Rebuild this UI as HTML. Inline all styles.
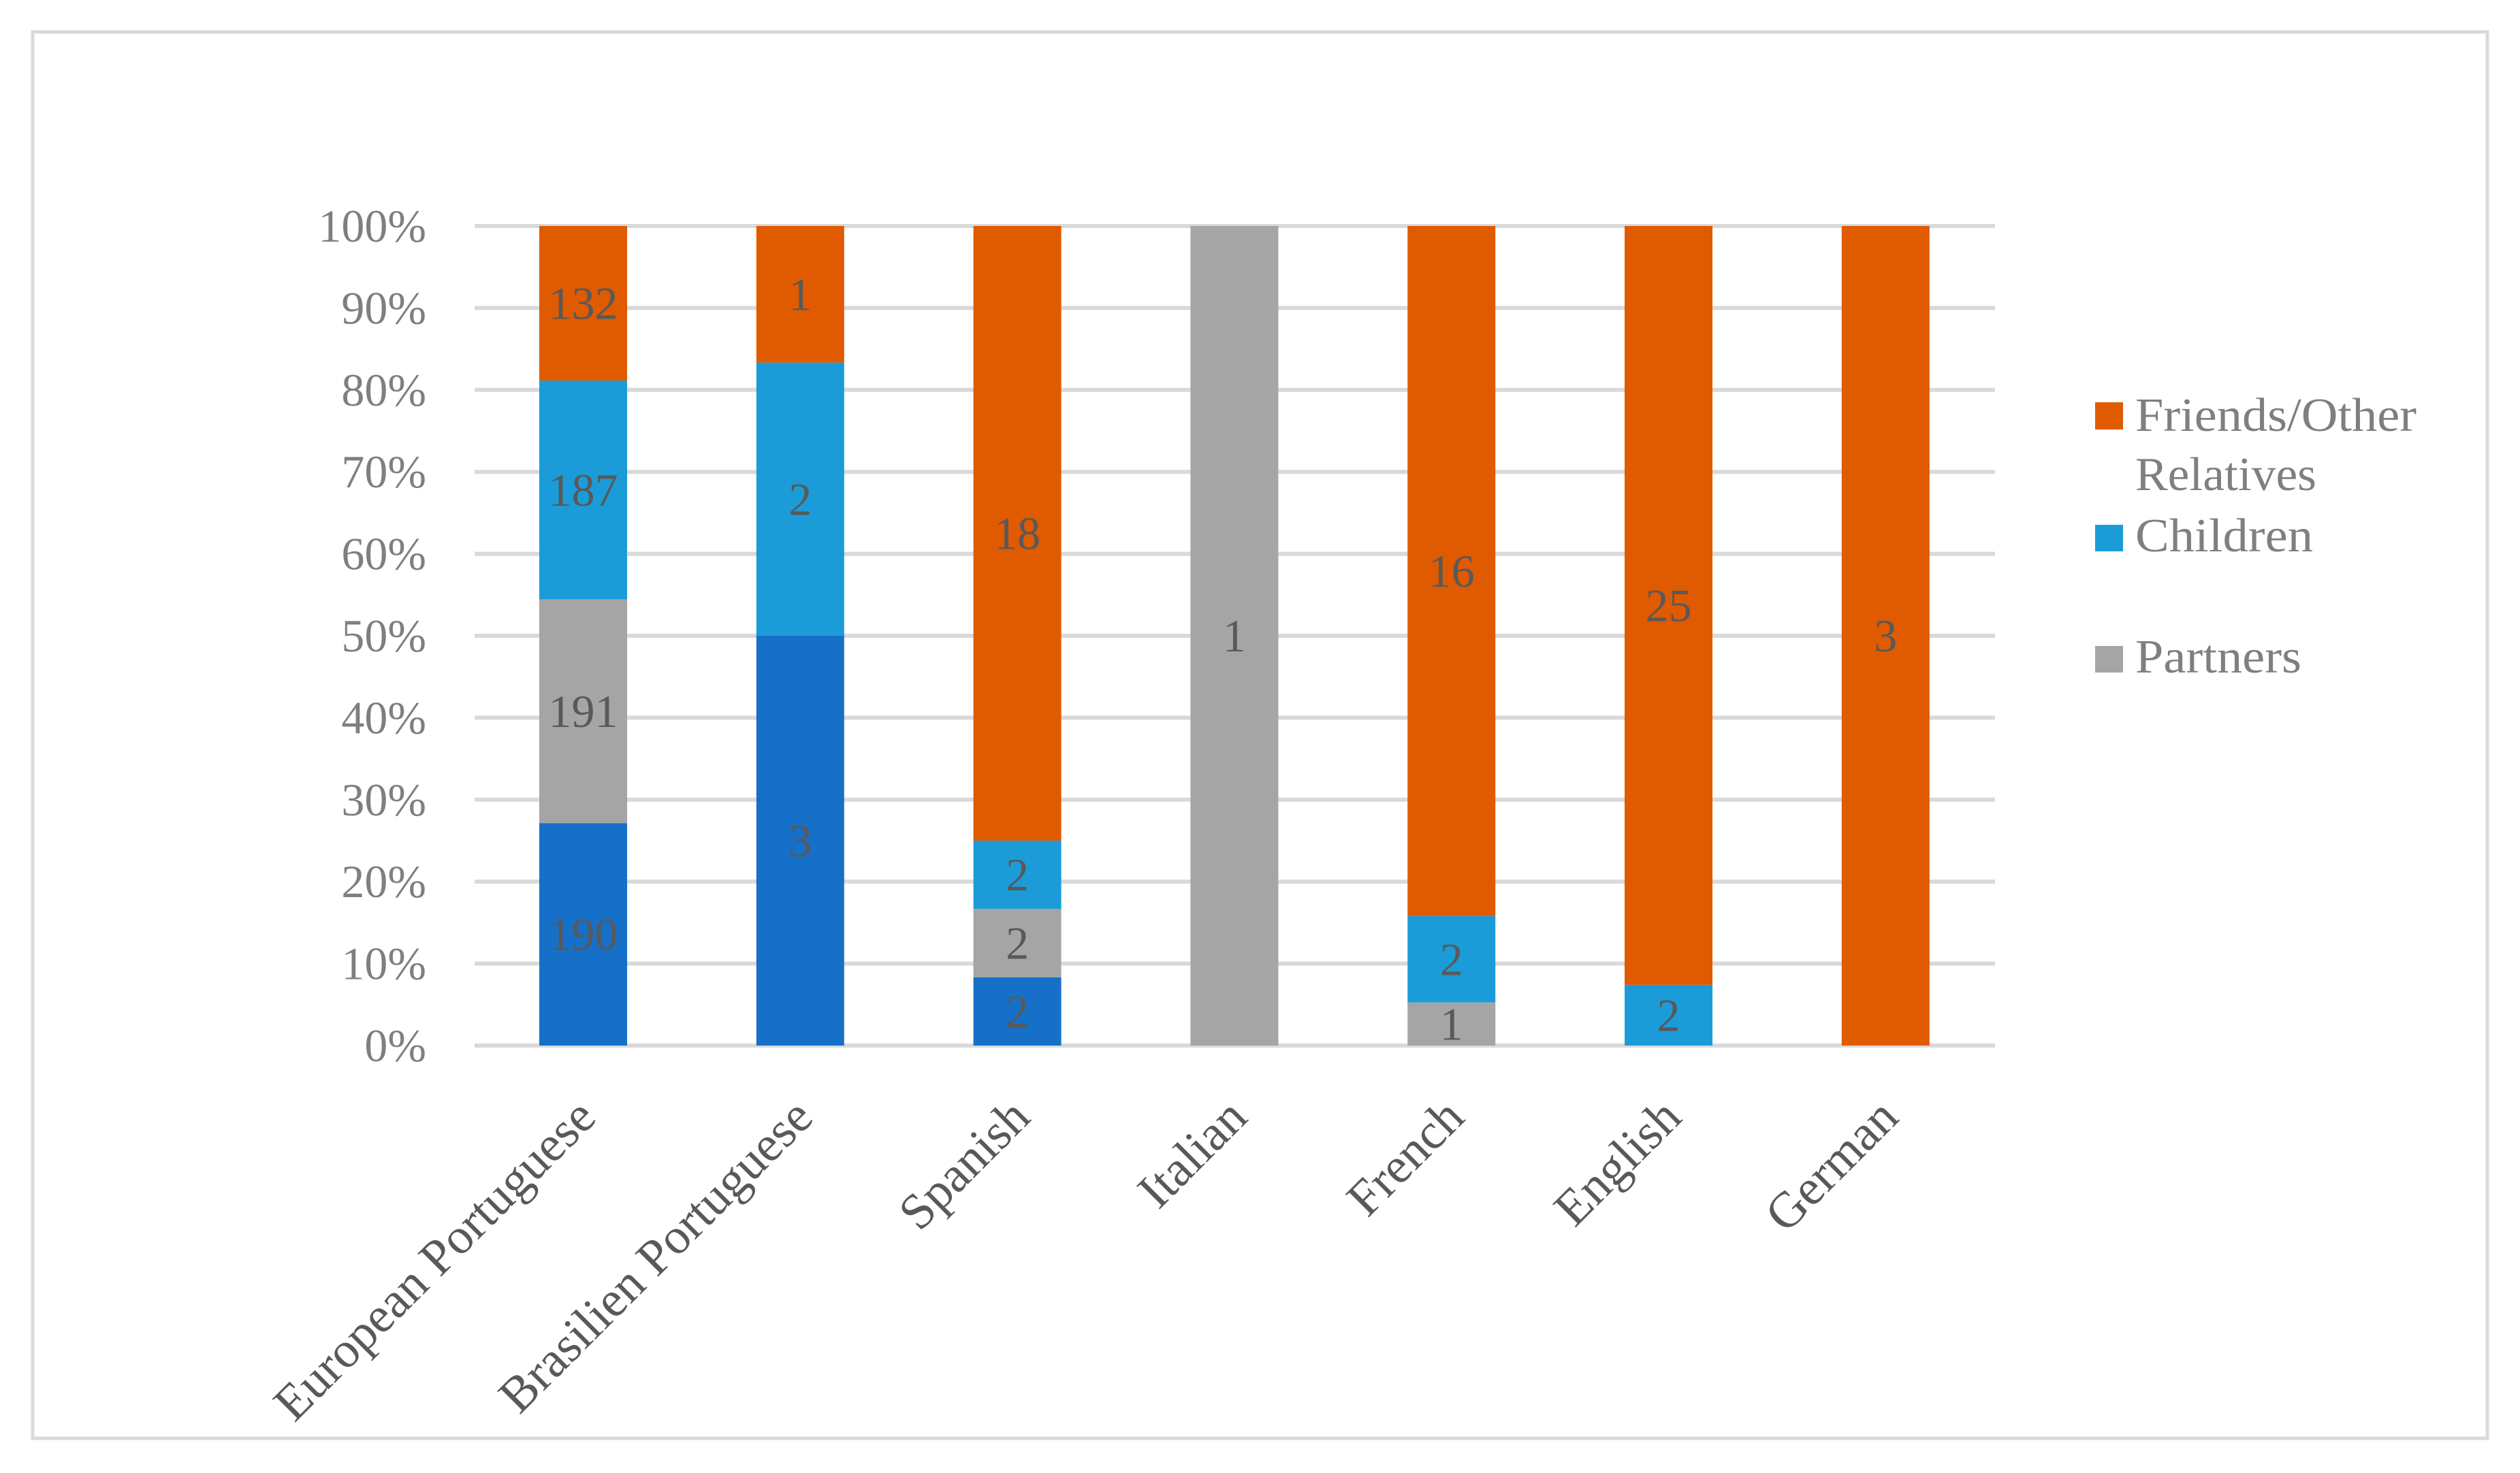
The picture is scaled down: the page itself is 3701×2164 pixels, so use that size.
<!DOCTYPE html>
<html><head><meta charset="utf-8"><style>
html,body{margin:0;padding:0;background:#fff;}
svg{display:block;font-family:"Liberation Serif",serif;}
</style></head><body>
<svg id="chart" width="3701" height="2164" viewBox="0 0 3701 2164" xmlns="http://www.w3.org/2000/svg">
<rect x="48" y="47" width="3605" height="2066" fill="#fff" stroke="#d9d9d9" stroke-width="5"/>
<g id="grid"></g><g id="ylabels"></g><g id="bars"></g><g id="vals"></g><g id="xlabels"></g>
<g>
<rect x="3077" y="591" width="41" height="40" fill="#e05a00"/>
<text x="3136" y="633" font-size="70" fill="#7f7f7f" textLength="413" lengthAdjust="spacingAndGlyphs">Friends/Other</text>
<text x="3136" y="720" font-size="70" fill="#7f7f7f" textLength="266" lengthAdjust="spacingAndGlyphs">Relatives</text>
<rect x="3077" y="771" width="41" height="39" fill="#1b9cd8"/>
<text x="3136" y="810" font-size="70" fill="#7f7f7f" textLength="261" lengthAdjust="spacingAndGlyphs">Children</text>
<rect x="3077" y="949" width="41" height="39" fill="#a5a5a5"/>
<text x="3136" y="988" font-size="70" fill="#7f7f7f" textLength="244" lengthAdjust="spacingAndGlyphs">Partners</text>
</g>
</svg>
<script>
const categories = ["European Portuguese","Brasilien Portuguese","Spanish","Italian","French","English","German"];
const other = [190,3,2,0,0,0,0];
const partners = [191,0,2,1,1,0,0];
const children = [187,2,2,0,2,2,0];
const friends = [132,1,18,0,16,25,3];
const yTicks = ["0%","10%","20%","30%","40%","50%","60%","70%","80%","90%","100%"];

const NS="http://www.w3.org/2000/svg";
const y0=1536, y1=332, gx0=697, gx1=2930, x0=856.5, step=318.8, bw=129;
const yS=p=>y0-(y0-y1)*p;
const xS=i=>x0+step*i;
function mk(tag,attrs,parent){const e=document.createElementNS(NS,tag);for(const k in attrs)e.setAttribute(k,attrs[k]);parent.appendChild(e);return e;}
const grid=document.getElementById('grid'),yl=document.getElementById('ylabels'),bars=document.getElementById('bars'),vals=document.getElementById('vals'),xl=document.getElementById('xlabels');
yTicks.forEach((t,i)=>{
  const p=i/(yTicks.length-1);
  const l=mk('line',{x1:gx0,x2:gx1,y1:yS(p),y2:yS(p),stroke:'#d9d9d9','stroke-width':6},grid);
  
  
  const tx=mk('text',{x:626,y:yS(p)+23,'text-anchor':'end','font-size':68,fill:'#7f7f7f'},yl);
  
  
  tx.textContent=t;
});
const series=[[other,'#1670c8','other'],[partners,'#a5a5a5','partners'],[children,'#1b9cd8','children'],[friends,'#e05a00','friends']];
categories.forEach((c,i)=>{
  const tot=other[i]+partners[i]+children[i]+friends[i];
  let acc=0;
  series.forEach(([arr,col,nm])=>{
    const v=arr[i]; if(!v) return;
    const a=acc/tot, b=(acc+v)/tot; acc+=v;
    const r=mk('rect',{x:xS(i)-bw/2,y:yS(b),width:bw,height:yS(a)-yS(b),fill:col},bars);
    
    
    const t=mk('text',{x:xS(i),y:(yS(a)+yS(b))/2+23,'text-anchor':'middle','font-size':68,fill:'#595959'},vals);
    
    
    t.textContent=v;
  });
  const lx=xS(i)+22, ly=1645;
  const t=mk('text',{x:lx,y:ly,'text-anchor':'end','font-size':74,fill:'#595959',transform:`rotate(-45 ${lx} ${ly})`},xl);
  
  
  t.textContent=c;
});
</script>
</body></html>
